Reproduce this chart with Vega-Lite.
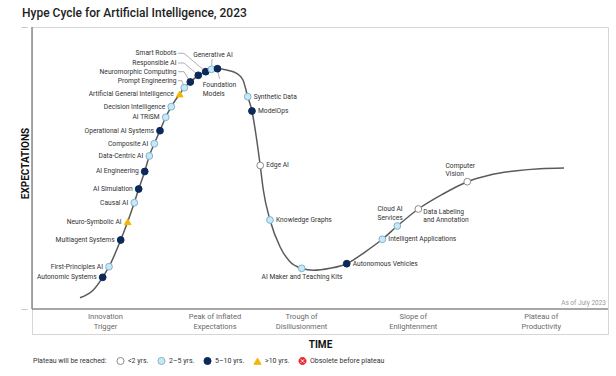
{
  "$schema": "https://vega.github.io/schema/vega-lite/v6.json",
  "width": 576,
  "height": 307,
  "autosize": {"type": "none"},
  "padding": {"left": 32, "top": 27, "right": 8, "bottom": 42},
  "background": "white",
  "title": {"text": "Hype Cycle for Artificial Intelligence, 2023", "anchor": "start", "frame": "group", "dx": -10, "dy": 14, "offset": 11, "baseline": "alphabetic", "font": "Roboto", "fontSize": 12, "fontWeight": 500, "color": "#222222"},
  "config": {"view": {"stroke": "#d6d6d6", "strokeWidth": 1}, "font": "Roboto"},
  "datasets": {
    "curve": [
      {"time": 8.33, "expectation": 4.01}, {"time": 10.64, "expectation": 6.74}, {"time": 12.27, "expectation": 11.24},
      {"time": 13.37, "expectation": 15.0}, {"time": 15.40, "expectation": 24.47}, {"time": 16.61, "expectation": 30.96},
      {"time": 17.76, "expectation": 37.70}, {"time": 18.52, "expectation": 42.55}, {"time": 19.57, "expectation": 48.76},
      {"time": 20.36, "expectation": 54.26}, {"time": 21.23, "expectation": 58.62}, {"time": 22.22, "expectation": 63.23},
      {"time": 23.21, "expectation": 67.98}, {"time": 24.18, "expectation": 71.74}, {"time": 25.64, "expectation": 76.24},
      {"time": 26.44, "expectation": 78.48}, {"time": 27.48, "expectation": 80.50}, {"time": 28.87, "expectation": 82.87},
      {"time": 30.16, "expectation": 84.15}, {"time": 31.16, "expectation": 85.0}, {"time": 32.20, "expectation": 85.21},
      {"time": 33.80, "expectation": 84.75}, {"time": 35.54, "expectation": 83.58}, {"time": 36.63, "expectation": 81.21},
      {"time": 37.45, "expectation": 75.28}, {"time": 38.19, "expectation": 70.21}, {"time": 38.89, "expectation": 61.70},
      {"time": 39.62, "expectation": 50.89}, {"time": 40.16, "expectation": 42.20}, {"time": 41.32, "expectation": 31.56},
      {"time": 43.06, "expectation": 22.09}, {"time": 44.79, "expectation": 16.77}, {"time": 46.82, "expectation": 14.43},
      {"time": 48.84, "expectation": 13.72}, {"time": 51.74, "expectation": 14.43}, {"time": 54.64, "expectation": 16.06},
      {"time": 57.81, "expectation": 20.21}, {"time": 60.82, "expectation": 24.72}, {"time": 63.42, "expectation": 29.43},
      {"time": 67.07, "expectation": 35.46}, {"time": 71.35, "expectation": 40.78}, {"time": 75.57, "expectation": 45.14},
      {"time": 79.51, "expectation": 47.52}, {"time": 84.15, "expectation": 49.04}, {"time": 88.19, "expectation": 49.75},
      {"time": 92.36, "expectation": 50.0}
    ],
    "tech": [
      {"name": "Autonomic Systems", "time": 12.27, "expectation": 11.24, "plateau": "5–10 yrs."},
      {"name": "First-Principles AI", "time": 13.37, "expectation": 15.0, "plateau": "2–5 yrs."},
      {"name": "Multiagent Systems", "time": 15.40, "expectation": 24.47, "plateau": "5–10 yrs."},
      {"name": "Neuro-Symbolic AI", "time": 16.61, "expectation": 30.96, "plateau": ">10 yrs."},
      {"name": "Causal AI", "time": 17.76, "expectation": 37.70, "plateau": "2–5 yrs."},
      {"name": "AI Simulation", "time": 18.52, "expectation": 42.55, "plateau": "5–10 yrs."},
      {"name": "AI Engineering", "time": 19.57, "expectation": 48.76, "plateau": "5–10 yrs."},
      {"name": "Data-Centric AI", "time": 20.36, "expectation": 54.26, "plateau": "2–5 yrs."},
      {"name": "Composite AI", "time": 21.23, "expectation": 58.62, "plateau": "2–5 yrs."},
      {"name": "Operational AI Systems", "time": 22.22, "expectation": 63.23, "plateau": "5–10 yrs."},
      {"name": "AI TRiSM", "time": 23.21, "expectation": 67.98, "plateau": "2–5 yrs."},
      {"name": "Decision Intelligence", "time": 24.18, "expectation": 71.74, "plateau": "2–5 yrs."},
      {"name": "Artificial General Intelligence", "time": 25.64, "expectation": 76.24, "plateau": ">10 yrs."},
      {"name": "Prompt Engineering", "time": 26.44, "expectation": 78.48, "plateau": "2–5 yrs."},
      {"name": "Neuromorphic Computing", "time": 27.48, "expectation": 80.50, "plateau": "5–10 yrs."},
      {"name": "Responsible AI", "time": 28.87, "expectation": 82.87, "plateau": "5–10 yrs."},
      {"name": "Smart Robots", "time": 30.16, "expectation": 84.15, "plateau": "5–10 yrs."},
      {"name": "Generative AI", "time": 31.16, "expectation": 85.0, "plateau": "2–5 yrs."},
      {"name": "Foundation Models", "time": 32.20, "expectation": 85.21, "plateau": "5–10 yrs."},
      {"name": "Synthetic Data", "time": 37.45, "expectation": 75.28, "plateau": "2–5 yrs."},
      {"name": "ModelOps", "time": 38.19, "expectation": 70.21, "plateau": "5–10 yrs."},
      {"name": "Edge AI", "time": 39.62, "expectation": 50.89, "plateau": "<2 yrs."},
      {"name": "Knowledge Graphs", "time": 41.32, "expectation": 31.56, "plateau": "2–5 yrs."},
      {"name": "AI Maker and Teaching Kits", "time": 46.82, "expectation": 14.43, "plateau": "2–5 yrs."},
      {"name": "Autonomous Vehicles", "time": 54.64, "expectation": 16.06, "plateau": "5–10 yrs."},
      {"name": "Intelligent Applications", "time": 60.82, "expectation": 24.72, "plateau": "2–5 yrs."},
      {"name": "Cloud AI Services", "time": 63.42, "expectation": 29.43, "plateau": "2–5 yrs."},
      {"name": "Data Labeling and Annotation", "time": 67.07, "expectation": 35.46, "plateau": "<2 yrs."},
      {"name": "Computer Vision", "time": 75.57, "expectation": 45.14, "plateau": "<2 yrs."}
    ],
    "calloutsRight": [
      {"label": "Smart Robots", "time": 25.09, "expectation": 90.67},
      {"label": "Responsible AI", "time": 25.09, "expectation": 87.23},
      {"label": "Neuromorphic Computing", "time": 25.09, "expectation": 84.15},
      {"label": "Prompt Engineering", "time": 25.09, "expectation": 80.96}
    ],
    "calloutsCenter": [
      {"label": "Generative AI", "time": 31.42, "expectation": 90.07},
      {"label": "AI Maker and Teaching Kits", "time": 46.88, "expectation": 11.35}
    ],
    "calloutsLeft": [
      {"label": "Foundation\nModels", "time": 29.64, "expectation": 79.43},
      {"label": "Cloud AI\nServices", "time": 59.98, "expectation": 35.46},
      {"label": "Data Labeling\nand Annotation", "time": 67.93, "expectation": 34.50},
      {"label": "Computer\nVision", "time": 71.79, "expectation": 50.82}
    ],
    "leaders": [
      {"name": "Smart Robots", "step": 1, "time": 25.35, "expectation": 90.67},
      {"name": "Smart Robots", "step": 2, "time": 26.39, "expectation": 90.67},
      {"name": "Smart Robots", "step": 3, "time": 30.16, "expectation": 84.15},
      {"name": "Responsible AI", "step": 1, "time": 25.35, "expectation": 87.23},
      {"name": "Responsible AI", "step": 2, "time": 26.39, "expectation": 87.23},
      {"name": "Responsible AI", "step": 3, "time": 28.87, "expectation": 82.87},
      {"name": "Neuromorphic Computing", "step": 1, "time": 25.35, "expectation": 84.15},
      {"name": "Neuromorphic Computing", "step": 2, "time": 26.39, "expectation": 84.15},
      {"name": "Neuromorphic Computing", "step": 3, "time": 27.48, "expectation": 80.50},
      {"name": "Prompt Engineering", "step": 1, "time": 25.35, "expectation": 80.96},
      {"name": "Prompt Engineering", "step": 2, "time": 26.04, "expectation": 80.96},
      {"name": "Prompt Engineering", "step": 3, "time": 26.44, "expectation": 78.48},
      {"name": "Generative AI", "step": 1, "time": 31.16, "expectation": 85.0},
      {"name": "Generative AI", "step": 2, "time": 31.25, "expectation": 88.65},
      {"name": "Foundation Models", "step": 1, "time": 32.20, "expectation": 85.21},
      {"name": "Foundation Models", "step": 2, "time": 32.55, "expectation": 81.6}
    ],
    "dividers": [{"time": 25.52}, {"time": 38.02}, {"time": 55.56}, {"time": 76.82}],
    "phases": [
      {"phase": "Innovation\nTrigger", "time": 12.76, "expectation": -3.01},
      {"phase": "Peak of Inflated\nExpectations", "time": 31.77, "expectation": -3.01},
      {"phase": "Trough of\nDisillusionment", "time": 46.79, "expectation": -3.01},
      {"phase": "Slope of\nEnlightenment", "time": 66.19, "expectation": -3.01},
      {"phase": "Plateau of\nProductivity", "time": 88.41, "expectation": -3.01}
    ],
    "notes": [{"note": "As of July 2023", "time": 100, "expectation": 2.13}]
  },
  "encoding": {
    "x": {"field": "time", "type": "quantitative", "scale": {"domain": [0, 100], "nice": false, "zero": false},
      "axis": {"title": "TIME", "domain": false, "ticks": false, "labels": false, "grid": false, "titleFont": "Roboto", "titleFontSize": 10, "titleFontWeight": "bold", "titleColor": "#111111", "titleY": 10, "titleBaseline": "middle"}},
    "y": {"field": "expectation", "type": "quantitative", "scale": {"domain": [-8.865, 100], "nice": false, "zero": false},
      "axis": {"title": "EXPECTATIONS", "values": [0, 100], "domain": false, "ticks": true, "tickSize": 6, "tickColor": "#c4c4c4", "offset": 5, "labels": false, "grid": false, "titleFont": "Roboto", "titleFontSize": 10, "titleFontWeight": "bold", "titleColor": "#111111", "titleX": -2, "titleY": 136, "titleAlign": "center", "titleBaseline": "middle", "titleAngle": -90}}
  },
  "layer": [
    {"data": {"name": "dividers"}, "mark": {"type": "rule", "color": "#cfcfcf", "strokeWidth": 1},
      "encoding": {"y": {"datum": 0}, "y2": {"datum": 100}}},
    {"data": {"name": "notes"}, "mark": {"type": "rule", "color": "#8a8a8a", "strokeWidth": 1.5},
      "encoding": {"x": {"datum": 0}, "y": {"datum": 0}, "y2": {"datum": 100}}},
    {"data": {"name": "notes"}, "mark": {"type": "rule", "color": "#8a8a8a", "strokeWidth": 1.5},
      "encoding": {"x": {"datum": 0}, "x2": {"datum": 100}, "y": {"datum": 0}}},
    {"data": {"name": "curve"}, "mark": {"type": "line", "interpolate": "monotone", "color": "#5b5b5b", "strokeWidth": 1.5}},
    {"data": {"name": "leaders"}, "mark": {"type": "line", "color": "#7a7a7a", "strokeWidth": 0.6},
      "encoding": {"detail": {"field": "name"}, "order": {"field": "step", "type": "quantitative"}}},
    {"data": {"name": "tech"}, "mark": {"type": "point", "filled": true, "size": 46, "strokeWidth": 1, "opacity": 1},
      "encoding": {
        "fill": {"field": "plateau", "type": "nominal",
          "scale": {"domain": ["<2 yrs.", "2–5 yrs.", "5–10 yrs.", ">10 yrs.", "Obsolete before plateau"], "range": ["#ffffff", "#c9e8f6", "#0b2a59", "#f2b705", "#e8262a"]},
          "legend": {"title": "Plateau will be reached:", "orient": "none", "legendX": 1, "legendY": 329, "direction": "horizontal", "titleOrient": "left", "titleFont": "Roboto", "titleFontSize": 7, "titleFontWeight": "normal", "titleColor": "#333333", "titlePadding": 9, "labelFont": "Roboto", "labelFontSize": 7, "labelColor": "#333333", "symbolSize": 50, "symbolStrokeWidth": 1, "columnPadding": 6, "labelOffset": 3}},
        "stroke": {"field": "plateau", "type": "nominal",
          "scale": {"domain": ["<2 yrs.", "2–5 yrs.", "5–10 yrs.", ">10 yrs.", "Obsolete before plateau"], "range": ["#8c8c8c", "#7fb4d0", "#0b2a59", "#f2b705", "#e8262a"]}},
        "shape": {"field": "plateau", "type": "nominal",
          "scale": {"domain": ["<2 yrs.", "2–5 yrs.", "5–10 yrs.", ">10 yrs.", "Obsolete before plateau"], "range": ["circle", "circle", "circle", "triangle-up", "M0,-1A1,1,0,0,1,0,1A1,1,0,0,1,0,-1ZM0,-0.26L-0.44,-0.7L-0.7,-0.44L-0.26,0L-0.7,0.44L-0.44,0.7L0,0.26L0.44,0.7L0.7,0.44L0.26,0L0.7,-0.44L0.44,-0.7Z"]}}
      }},
    {"data": {"name": "tech"},
      "transform": [{"filter": {"field": "name", "oneOf": ["Autonomic Systems", "First-Principles AI", "Multiagent Systems", "Neuro-Symbolic AI", "Causal AI", "AI Simulation", "AI Engineering", "Data-Centric AI", "Composite AI", "Operational AI Systems", "AI TRiSM", "Decision Intelligence", "Artificial General Intelligence"]}}],
      "mark": {"type": "text", "font": "Roboto", "fontSize": 6.7, "color": "#333333", "align": "right", "baseline": "middle", "dx": -6},
      "encoding": {"text": {"field": "name"}}},
    {"data": {"name": "tech"},
      "transform": [{"filter": {"field": "name", "oneOf": ["Synthetic Data", "ModelOps", "Edge AI", "Knowledge Graphs", "Autonomous Vehicles", "Intelligent Applications"]}}],
      "mark": {"type": "text", "font": "Roboto", "fontSize": 6.7, "color": "#333333", "align": "left", "baseline": "middle", "dx": 6},
      "encoding": {"text": {"field": "name"}}},
    {"data": {"name": "calloutsRight"},
      "mark": {"type": "text", "font": "Roboto", "fontSize": 6.7, "color": "#333333", "align": "right", "baseline": "middle"},
      "encoding": {"text": {"field": "label"}}},
    {"data": {"name": "calloutsCenter"},
      "mark": {"type": "text", "font": "Roboto", "fontSize": 6.7, "color": "#333333", "align": "center", "baseline": "middle"},
      "encoding": {"text": {"field": "label"}}},
    {"data": {"name": "calloutsLeft"},
      "mark": {"type": "text", "font": "Roboto", "fontSize": 6.7, "color": "#333333", "align": "left", "baseline": "middle", "lineBreak": "\n", "lineHeight": 8.5},
      "encoding": {"text": {"field": "label"}}},
    {"data": {"name": "phases"},
      "mark": {"type": "text", "font": "Roboto", "fontSize": 7.5, "color": "#6a6a6a", "align": "center", "baseline": "middle", "lineBreak": "\n", "lineHeight": 10},
      "encoding": {"text": {"field": "phase"}}},
    {"data": {"name": "notes"},
      "mark": {"type": "text", "font": "Roboto", "fontSize": 6.5, "color": "#9a9a9a", "align": "right", "baseline": "middle", "dx": -2},
      "encoding": {"text": {"field": "note"}}}
  ]
}
